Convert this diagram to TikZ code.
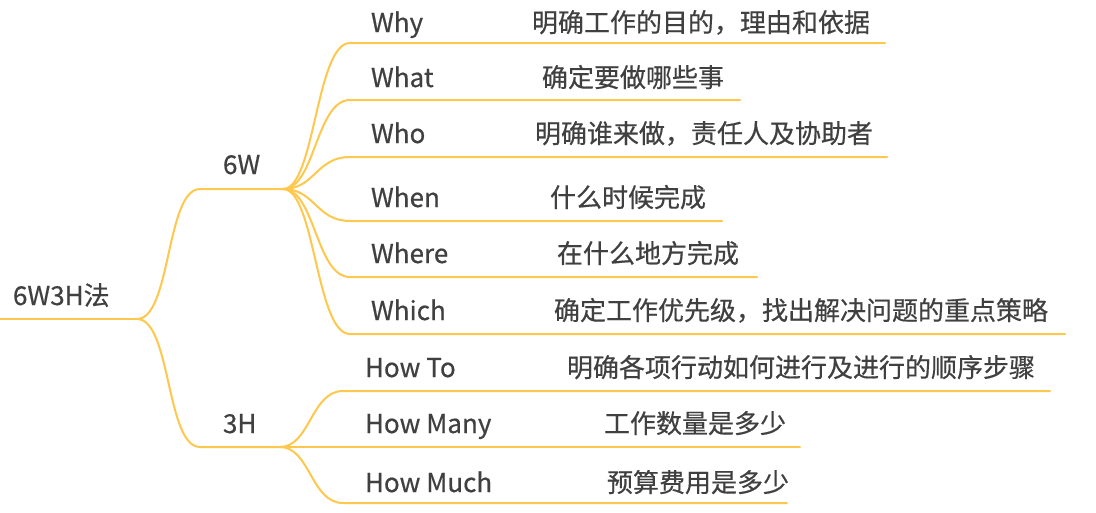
\documentclass[tikz,border=0pt]{standalone}
\usepackage{fontspec}
\setmainfont[FakeBold=0.5]{Noto Sans CJK SC}
\usetikzlibrary{positioning}
\definecolor{branch}{RGB}{254,200,78}
\definecolor{ink}{RGB}{64,64,64}

\begin{document}
\begin{tikzpicture}[x=1pt,y=-1pt,line width=2pt,
    every node/.style={inner sep=0pt,anchor=base west,text=ink,
      font=\fontsize{26}{30}\selectfont},
    link/.style={draw=branch,line cap=round}]
  \useasboundingbox[fill=white] (0,0) rectangle (1096,512);
  % root topic and its two groups
  \coordinate (root-s) at (0,319);
  \coordinate (root-e) at (137,319);
  \node (root) at (12,305) {6W3H法};
  \coordinate (w6-s) at (200,189);
  \coordinate (w6-e) at (283,189);
  \node (w6) at (222,174) {6W};
  \coordinate (h3-s) at (200,447);
  \coordinate (h3-e) at (280,447);
  \node (h3) at (222,433) {3H};
  \draw[link] (root-s) -- (root-e);
  \draw[link] (root-e) .. controls +(34,0) and +(-34,0) .. (w6-s) -- (w6-e);
  \draw[link] (root-e) .. controls +(34,0) and +(-34,0) .. (h3-s) -- (h3-e);
  % the six W
  \foreach \n/\y/\b/\lab/\dx/\desc/\ex in {
      why/43/32/Why/531/明确工作的目的，理由和依据/885,
      what/100/87/What/541/确定要做哪些事/740,
      who/157/143/Who/534/明确谁来做，责任人及协助者/887,
      when/221/207/When/549/什么时候完成/722,
      where/277/263/Where/556/在什么地方完成/757,
      which/334/320/Which/553/确定工作优先级，找出解决问题的重点策略/1065}
  {
    \coordinate (\n-s) at (350,\y);
    \coordinate (\n-e) at (\ex,\y);
    \node (\n) at (370,\b) {\lab};
    \node (\n-d) at (\dx,\b) {\desc};
    \draw[link] (w6-e) .. controls +(32,0) and +(-34,0) .. (\n-s) -- (\n-e);
  }
  % the three H
  \foreach \n/\y/\b/\lab/\dx/\desc/\ex in {
      howto/391/377/How To/566/明确各项行动如何进行及进行的顺序步骤/1050,
      howmany/447/433/How Many/603/工作数量是多少/800,
      howmuch/503/492/How Much/606/预算费用是多少/787}
  {
    \coordinate (\n-s) at (343,\y);
    \coordinate (\n-e) at (\ex,\y);
    \node (\n) at (364,\b) {\lab};
    \node (\n-d) at (\dx,\b) {\desc};
    \draw[link] (h3-e) .. controls +(30,0) and +(-32,0) .. (\n-s) -- (\n-e);
  }
\end{tikzpicture}
\end{document}
